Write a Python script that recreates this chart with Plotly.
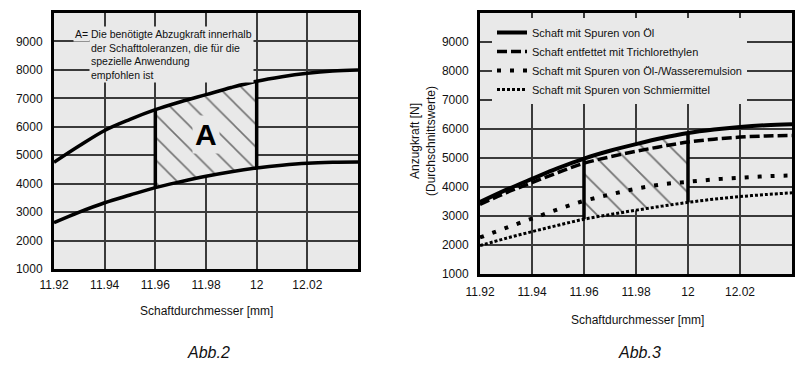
import numpy as np
import plotly.graph_objects as go

# ---------------- data ----------------
diam = [11.92, 11.93, 11.94, 11.95, 11.96, 11.97, 11.98, 11.99, 12.00, 12.01, 12.02, 12.03, 12.04]
x_ticks = [11.92, 11.94, 11.96, 11.98, 12.00, 12.02]
x_tick_labels = ["11.92", "11.94", "11.96", "11.98", "12", "12.02"]
y_ticks = [1000, 2000, 3000, 4000, 5000, 6000, 7000, 8000, 9000]

# Abb.2
abb2_upper = [4750, 5330, 5870, 6260, 6600, 6880, 7130, 7380, 7600, 7760, 7880, 7960, 8000]
abb2_lower = [2630, 3000, 3330, 3600, 3860, 4070, 4260, 4420, 4550, 4650, 4720, 4750, 4760]

# Abb.3
oel = [3480, 3900, 4280, 4650, 4980, 5250, 5480, 5690, 5860, 5980, 6070, 6130, 6160]
trichlor = [3400, 3800, 4150, 4500, 4820, 5040, 5230, 5400, 5550, 5650, 5720, 5760, 5780]
emulsion = [2260, 2590, 2910, 3230, 3520, 3740, 3940, 4090, 4180, 4260, 4320, 4370, 4400]
schmier = [1980, 2230, 2460, 2680, 2890, 3050, 3200, 3340, 3470, 3580, 3670, 3740, 3800]

tol_lo, tol_hi = 11.96, 12.00
legend_names = [
    "Schaft mit Spuren von Öl",
    "Schaft entfettet mit Trichlorethylen",
    "Schaft mit Spuren von Öl-/Wasseremulsion",
    "Schaft mit Spuren von Schmiermittel",
]
note_text = "Die benötigte Abzugkraft innerhalb<br>der Schafttoleranzen, die für die<br>spezielle Anwendung<br>empfohlen ist"

# ---------------- style ----------------
BG = "#e9e9e9"
GRID = "#3a3a3a"
FONT = "Liberation Sans, Arial, sans-serif"
TXT = "#111"
W, H = 800, 369

def py(px):
    return 1 - px / H

x = np.array(diam)
mask = (x > tol_lo - 1e-9) & (x < tol_hi + 1e-9)
i_lo = int(np.argmin(abs(x - tol_lo)))
i_hi = int(np.argmin(abs(x - tol_hi)))

fig = go.Figure()

def add_region(lower, upper, xa, ya, size, solidity):
    lower = np.array(lower); upper = np.array(upper)
    fig.add_trace(go.Scatter(x=x[mask], y=lower[mask], mode="lines",
                             line=dict(width=0, shape="spline"), showlegend=False,
                             hoverinfo="skip", xaxis=xa, yaxis=ya))
    fig.add_trace(go.Scatter(x=x[mask], y=upper[mask], mode="lines",
                             line=dict(width=0, shape="spline"), fill="tonexty",
                             fillcolor=BG,
                             fillpattern=dict(shape="\\", size=size, solidity=solidity,
                                              fgcolor="black", fillmode="overlay"),
                             showlegend=False, hoverinfo="skip", xaxis=xa, yaxis=ya))

def add_bounds(lower, upper, xa, ya):
    for i in (i_lo, i_hi):
        fig.add_trace(go.Scatter(x=[diam[i], diam[i]], y=[lower[i], upper[i]], mode="lines",
                                 line=dict(color="black", width=3.5), showlegend=False,
                                 hoverinfo="skip", xaxis=xa, yaxis=ya))

# ---- Abb.2 ----
add_region(abb2_lower, abb2_upper, "x", "y", 16, 0.1)
for ys in (abb2_upper, abb2_lower):
    fig.add_trace(go.Scatter(x=diam, y=ys, mode="lines",
                             line=dict(color="black", width=3.5, shape="spline"),
                             showlegend=False, xaxis="x", yaxis="y"))
add_bounds(abb2_lower, abb2_upper, "x", "y")

# ---- Abb.3 ----
add_region(schmier, oel, "x2", "y2", 20, 0.09)
styles = [
    dict(width=4, dash="solid"),
    dict(width=3.5, dash="10px,4px"),
    dict(width=4, dash="4px,9px"),
    dict(width=3, dash="3px,2px"),
]
for name, ys, st in zip(legend_names, [oel, trichlor, emulsion, schmier], styles):
    fig.add_trace(go.Scatter(x=diam, y=ys, mode="lines", name=name,
                             line=dict(color="black", width=st["width"], dash=st["dash"], shape="spline"),
                             showlegend=True, xaxis="x2", yaxis="y2"))
add_bounds(schmier, oel, "x2", "y2")

axis_common = dict(
    range=[11.92, 12.04], tickmode="array", tickvals=x_ticks, ticktext=x_tick_labels,
    showgrid=True, gridcolor=GRID, gridwidth=1.5, showline=True, linecolor="black",
    linewidth=3, mirror=True, ticks="", zeroline=False, automargin=False,
    tickfont=dict(family=FONT, size=12, color=TXT),
)
yaxis_common = dict(
    range=[1000, 10000], tickmode="array", tickvals=y_ticks,
    showgrid=True, gridcolor=GRID, gridwidth=1.5, showline=True, linecolor="black",
    linewidth=3, mirror=True, ticks="", zeroline=False, automargin=False,
    tickfont=dict(family=FONT, size=12, color=TXT),
)

fig.update_layout(
    width=W, height=H,
    margin=dict(l=0, r=0, t=0, b=0, pad=0),
    paper_bgcolor="white", plot_bgcolor=BG,
    xaxis=dict(domain=[54 / W, 358 / W], anchor="y", ticklabelstandoff=3, **axis_common),
    yaxis=dict(domain=[py(269), py(13)], anchor="x", ticklabelstandoff=6, **yaxis_common),
    xaxis2=dict(domain=[480 / W, 792 / W], anchor="y2", ticklabelstandoff=5, **axis_common),
    yaxis2=dict(domain=[py(274), py(13)], anchor="x2", ticklabelstandoff=6, **yaxis_common),
    legend=dict(x=492 / W, y=py(18), xanchor="left", yanchor="top", bgcolor=BG,
                font=dict(family=FONT, size=11, color=TXT), tracegroupgap=0,
                itemwidth=30, traceorder="normal"),
    showlegend=True,
)

ann = []
# note in Abb.2
ann.append(dict(xref="paper", yref="paper", x=73 / W, y=py(26), xanchor="left", yanchor="top",
                text="A=", showarrow=False, font=dict(family=FONT, size=10.5, color=TXT),
                bgcolor=BG, borderpad=1))
ann.append(dict(xref="paper", yref="paper", x=89 / W, y=py(26), xanchor="left", yanchor="top",
                text=note_text, align="left", showarrow=False,
                font=dict(family=FONT, size=10.5, color=TXT), bgcolor=BG, borderpad=1))
ann.append(dict(xref="x", yref="y", x=11.98, y=5720, xanchor="center", yanchor="middle",
                text="<b>A</b>", showarrow=False,
                font=dict(family=FONT, size=30, color="black"), bgcolor=BG, borderpad=2))
# axis titles
ann.append(dict(xref="paper", yref="paper", x=206 / W, y=py(311), xanchor="center", yanchor="middle",
                text="Schaftdurchmesser [mm]", showarrow=False,
                font=dict(family=FONT, size=12, color=TXT)))
ann.append(dict(xref="paper", yref="paper", x=637 / W, y=py(320), xanchor="center", yanchor="middle",
                text="Schaftdurchmesser [mm]", showarrow=False,
                font=dict(family=FONT, size=12, color=TXT)))
ann.append(dict(xref="paper", yref="paper", x=423 / W, y=py(141), xanchor="center", yanchor="middle",
                text="Anzugkraft [N]<br>(Durchschnittswerte)", textangle=-90,
                showarrow=False, font=dict(family=FONT, size=12, color=TXT)))
# captions
ann.append(dict(xref="paper", yref="paper", x=208 / W, y=py(352), xanchor="center", yanchor="middle",
                text="<i>Abb.2</i>", showarrow=False, font=dict(family=FONT, size=16, color=TXT)))
ann.append(dict(xref="paper", yref="paper", x=639 / W, y=py(352), xanchor="center", yanchor="middle",
                text="<i>Abb.3</i>", showarrow=False, font=dict(family=FONT, size=16, color=TXT)))
fig.update_layout(annotations=ann)

fig.write_html("out.html", config={"displayModeBar": False},
               post_script="document.body.style.margin='0';")
